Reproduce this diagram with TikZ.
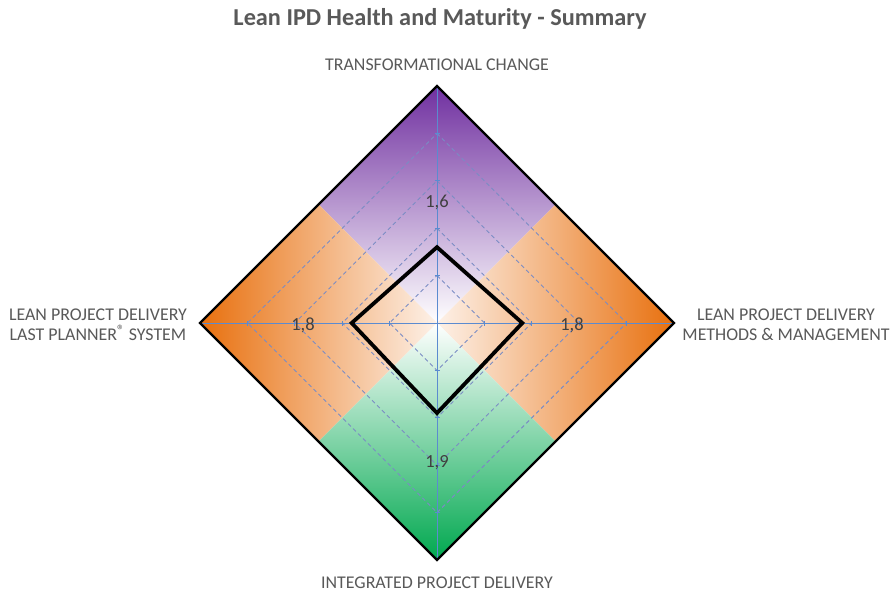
\documentclass[tikz,border=0pt]{standalone}
\usepackage{fontspec}
\setmainfont{Carlito}
\usetikzlibrary{calc}
\definecolor{lblgray}{HTML}{595959}
\definecolor{valgray}{HTML}{404040}
\definecolor{purp}{HTML}{7030A0}
\definecolor{orng}{HTML}{E8700E}
\definecolor{orngl}{HTML}{FDF1E8}
\definecolor{grn}{HTML}{00A84F}
\definecolor{axisblue}{HTML}{5B8BD0}
\definecolor{gridblue}{HTML}{7A8CC4}
\tikzset{
  axislabel/.style={text=lblgray, font=\fontsize{17.9}{20}\selectfont, align=center, inner sep=0pt},
  vallabel/.style={text=valgray, font=\fontsize{18.5}{20}\selectfont, inner sep=0pt},
  axisline/.style={draw=axisblue, line width=1pt},
  gridline/.style={draw=gridblue, line width=0.9pt, dash pattern=on 4pt off 3pt},
  outerline/.style={draw=black, line width=2.2pt, line join=miter},
  dataline/.style={draw=black, line width=3.8pt, line join=miter},
}
\begin{document}
\begin{tikzpicture}[x=1pt,y=1pt]
\fill[white] (0,0) rectangle (890,-597);
\useasboundingbox (0,0) rectangle (890,-597);
\node[text=lblgray, font=\bfseries\fontsize{24.3}{27}\selectfont, inner sep=0pt] (title) at (440,-19) {Lean IPD Health and Maturity - Summary};
\begin{scope}[shift={(437,-323)}]
  \coordinate (C) at (0,0);
  \coordinate (T) at (0,237);
  \coordinate (B) at (0,-237);
  \coordinate (L) at (-237,0);
  \coordinate (R) at (237,0);
  \coordinate (TL) at (-118.5,118.5);
  \coordinate (TR) at (118.5,118.5);
  \coordinate (BL) at (-118.5,-118.5);
  \coordinate (BR) at (118.5,-118.5);
  % gradient regions
  \shade[top color=purp, bottom color=white] (T) -- (TR) -- (C) -- (TL) -- cycle;
  \shade[left color=orng, right color=orngl] (L) -- (TL) -- (C) -- (BL) -- cycle;
  \shade[left color=orngl, right color=orng] (R) -- (TR) -- (C) -- (BR) -- cycle;
  \shade[top color=white, bottom color=grn] (B) -- (BL) -- (C) -- (BR) -- cycle;
  % grid
  \foreach \k in {1,2,3,4} {
    \draw[gridline] (0,\k*47.4) -- (\k*47.4,0) -- (0,-\k*47.4) -- (-\k*47.4,0) -- cycle;
  }
  \draw[axisline] (T) -- (B);
  \draw[axisline] (L) -- (R);
  \foreach \k in {1,2,3,4} {
    \draw[axisline, line width=0.8pt] (-2.5,\k*47.4) -- (2.5,\k*47.4);
    \draw[axisline, line width=0.8pt] (-2.5,-\k*47.4) -- (2.5,-\k*47.4);
    \draw[axisline, line width=0.8pt] (\k*47.4,-2.5) -- (\k*47.4,2.5);
    \draw[axisline, line width=0.8pt] (-\k*47.4,-2.5) -- (-\k*47.4,2.5);
  }
  % outer frame
  \draw[outerline] (T) -- (R) -- (B) -- (L) -- cycle;
  % data
  \coordinate (dT) at (0,1.6*47.4);
  \coordinate (dR) at (1.8*47.4,0);
  \coordinate (dB) at (0,-1.9*47.4);
  \coordinate (dL) at (-1.8*47.4,0);
  \draw[dataline] (dT) -- (dR) -- (dB) -- (dL) -- cycle;
  % value labels
  \node[vallabel] (v1) at (0,121) {1,6};
  \node[vallabel] (v2) at (135,-2) {1,8};
  \node[vallabel] (v3) at (-134,-2) {1,8};
  \node[vallabel] (v4) at (0,-140) {1,9};
\end{scope}
\node[axislabel] (ltop) at (437,-65) {TRANSFORMATIONAL CHANGE};
\node[axislabel] (lbot) at (437,-583) {INTEGRATED PROJECT DELIVERY};
\node[axislabel] (lleft) at (98,-325) {LEAN PROJECT DELIVERY\\LAST PLANNER\raisebox{0.3em}{\fontsize{15}{15}\selectfont ®} SYSTEM};
\node[axislabel] (lright) at (786,-325) {LEAN PROJECT DELIVERY\\METHODS \& MANAGEMENT};
\end{tikzpicture}
\end{document}
